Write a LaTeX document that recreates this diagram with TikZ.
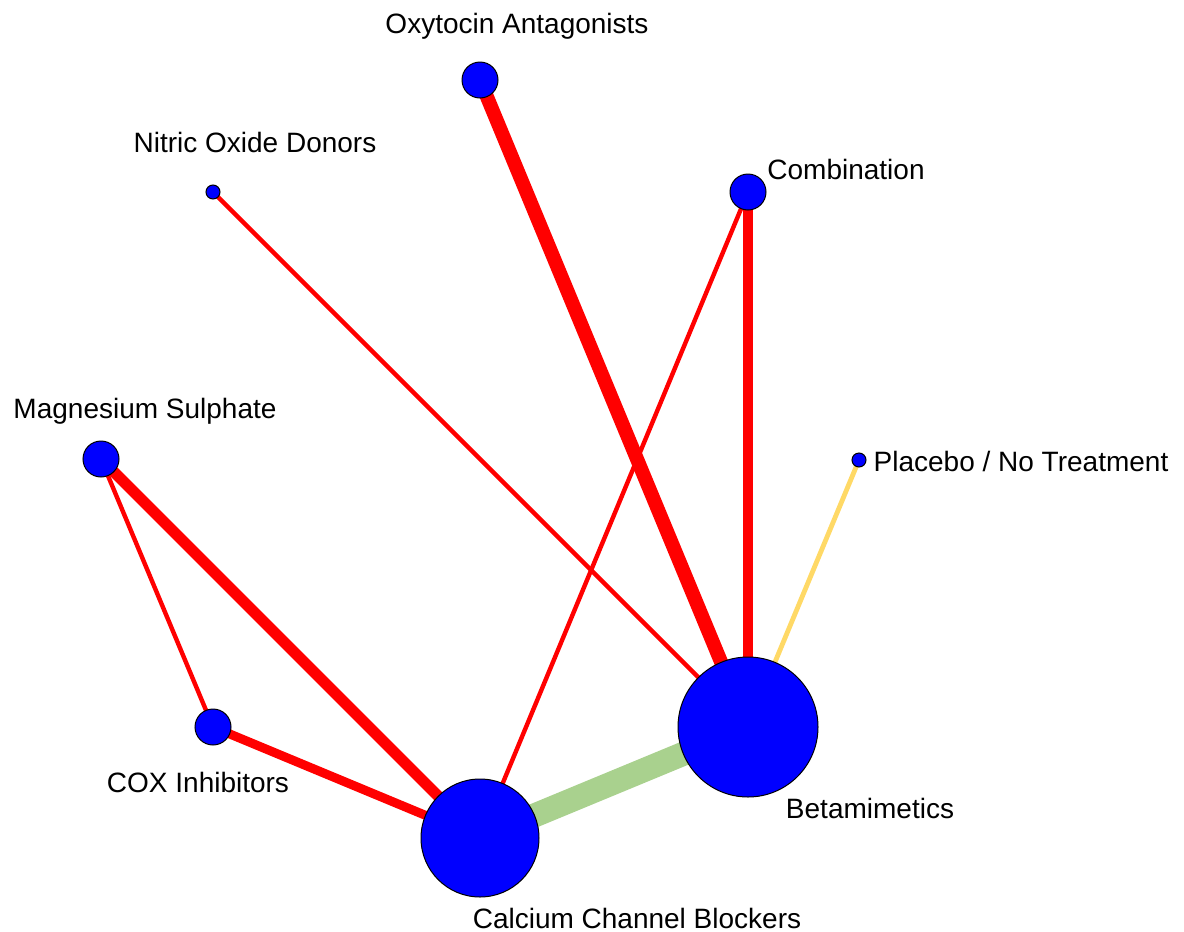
\documentclass[tikz,border=0pt]{standalone}
\usepackage{fontspec}
\setmainfont{Liberation Sans}
\usepackage{tikz}
\usetikzlibrary{backgrounds}
\definecolor{NodeBlue}{RGB}{0, 0, 255}
\definecolor{LinkRed}{RGB}{255, 0, 0}
\definecolor{LinkGreen}{RGB}{169, 209, 142}
\definecolor{LinkGold}{RGB}{255, 217, 102}
\tikzset{%
  drug/.style={%
    circle,%
    draw=black,%
    line width=0.5pt,%
    fill=NodeBlue,%
    inner sep=0pt,%
  },
  drug_small/.style={drug, minimum size=7pt},
  drug_mid/.style={drug, minimum size=18pt},
  drug_big/.style={drug, minimum size=#1},
  drug_label/.style={%
    anchor=base,%
    inner sep=0pt,%
    font={\fontsize{14}{16}\selectfont},%
  },
  link/.style={%
    line cap=butt,%
    line width=#1,%
  },
  red_link/.style={link=#1, draw=LinkRed},
  green_link/.style={link=#1, draw=LinkGreen},
  gold_link/.style={link=#1, draw=LinkGold},
}
\begin{document}
\begin{tikzpicture}[x=0.5pt, y=-0.5pt]
  \useasboundingbox (0,0) rectangle (1184,932);

  % treatments
  \node[drug_mid] (OXY) at (480,80) {};
  \node[drug_small] (NOD) at (213,192) {};
  \node[drug_mid] (COMB) at (748,192) {};
  \node[drug_mid] (MGS) at (101,459) {};
  \node[drug_small] (PLAC) at (859,460) {};
  \node[drug_mid] (COX) at (213,727) {};
  \node[drug_big=70pt] (BETA) at (748,727) {};
  \node[drug_big=59pt] (CCB) at (480,838) {};

  % labels
  \node[drug_label] (OXYlab) at (517,33) {Oxytocin Antagonists};
  \node[drug_label] (NODlab) at (255,152) {Nitric Oxide Donors};
  \node[drug_label] (COMBlab) at (846,179) {Combination};
  \node[drug_label] (MGSlab) at (145,418) {Magnesium Sulphate};
  \node[drug_label] (PLAClab) at (1021,471) {Placebo / No Treatment};
  \node[drug_label] (COXlab) at (198,792) {COX Inhibitors};
  \node[drug_label] (BETAlab) at (870,818) {Betamimetics};
  \node[drug_label] (CCBlab) at (637,928) {Calcium Channel Blockers};

  \begin{scope}[on background layer]
    \draw[red_link=7pt] (OXY.center) -- (BETA.center);
    \draw[red_link=2.2pt] (NOD.center) -- (BETA.center);
    \draw[red_link=5pt] (COMB.center) -- (BETA.center);
    \draw[red_link=2.2pt] (COMB.center) -- (CCB.center);
    \draw[gold_link=2.4pt] (PLAC.center) -- (BETA.center);
    \draw[red_link=5.5pt] (MGS.center) -- (CCB.center);
    \draw[red_link=2.2pt] (MGS.center) -- (COX.center);
    \draw[red_link=4.5pt] (COX.center) -- (CCB.center);
    \draw[green_link=12pt] (CCB.center) -- (BETA.center);
  \end{scope}

\end{tikzpicture}
\end{document}
